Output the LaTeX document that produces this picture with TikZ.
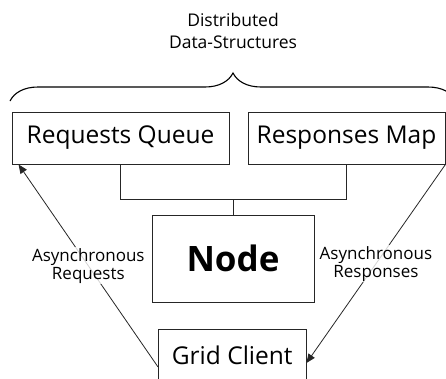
\documentclass[tikz,border=0pt]{standalone}
\usepackage{fontspec}
\setmainfont{Open Sans}
\usetikzlibrary{decorations.pathreplacing,arrows.meta,calc}

\tikzset{
  box/.style={draw=black!85, line width=0.9pt, inner sep=0pt, font=\fontsize{24.5}{28}\selectfont},
  wire/.style={draw=black!85, line width=0.8pt},
  flow/.style={wire, -{Triangle[length=9pt,width=7.5pt]}},
  tag/.style={fill=white, fill opacity=0.8, text opacity=1, align=center,
    inner sep=1pt, font=\fontsize{17}{17.8}\selectfont}
}

\begin{document}
\begin{tikzpicture}[x=1pt,y=-1pt]
  \useasboundingbox (0,0) rectangle (446,378);

  % heading over the shared structures
  \node[align=center, font=\fontsize{17.5}{21.6}\selectfont] (title) at (233,31) {Distributed\\Data-Structures};
  \draw[line width=1.1pt, decorate, decoration={brace, amplitude=28pt}] (10,101) -- (456,101);

  % boxes
  \node[box, minimum width=217pt, minimum height=52pt] (rq) at (120.5,138) {Requests Queue};
  \node[box, minimum width=197pt, minimum height=52pt] (rm) at (346.5,138) {Responses Map};
  \node[box, minimum width=162pt, minimum height=87pt, font=\fontsize{35}{38}\selectfont\bfseries] (nd) at (233,258.5) {Node};
  \node[box, minimum width=147.5pt, minimum height=51pt] (gc) at (232.25,355) {Grid Client};

  % bus between the structures and the node
  \coordinate (bus) at ($(rq.south)+(0,35)$);
  \draw[wire] (rq.south) -- (bus) -| (rm.south);
  \draw[wire] (nd.north) -- (nd.north |- bus);

  % client traffic
  \draw[flow] ([yshift=-12pt]gc.west) -- node[tag] {Asynchronous\\Requests} ([xshift=7pt]rq.south west);
  \draw[flow] (rm.south east) -- node[tag] {Asynchronous\\Responses} ([yshift=-8pt]gc.east);
\end{tikzpicture}
\end{document}
